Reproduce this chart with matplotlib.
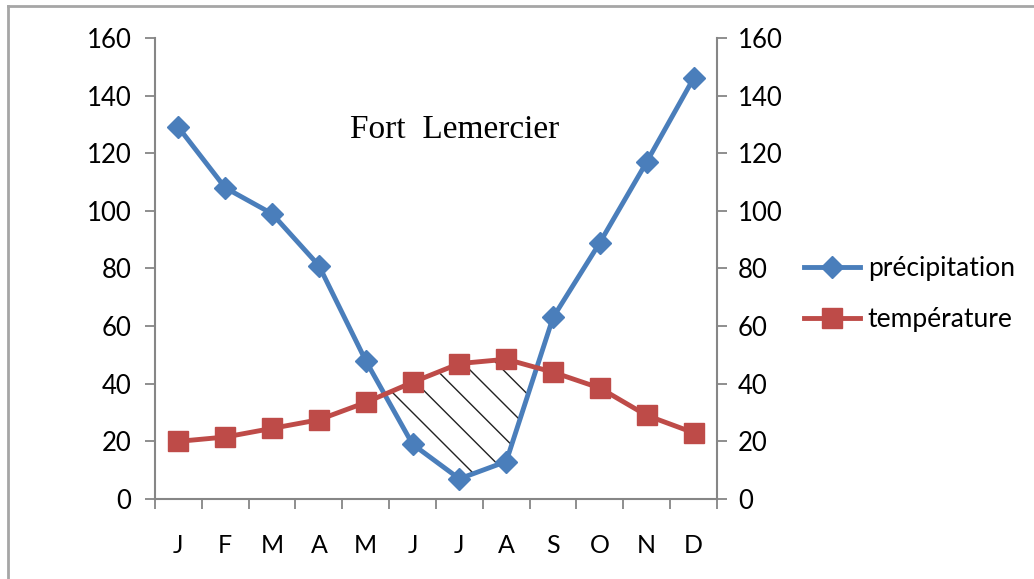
import numpy as np
import matplotlib.pyplot as plt
from matplotlib.lines import Line2D

# données climatiques - Fort Lemercier
mois = ['J', 'F', 'M', 'A', 'M', 'J', 'J', 'A', 'S', 'O', 'N', 'D']
precipitation = [129, 108, 99, 81, 48, 19, 7, 13, 63, 89, 117, 146]
temperature = [20, 21.5, 24.5, 27.5, 33.5, 40.5, 47, 48.5, 44, 38.5, 29, 23]
yticks = [0, 20, 40, 60, 80, 100, 120, 140, 160]

bleu = '#4A7EBB'
rouge = '#BE4B48'
gris = '#868686'

plt.rcParams['font.family'] = ['Lato', 'DejaVu Sans']

fig = plt.figure(figsize=(10.34, 5.79), dpi=100)
ax = fig.add_axes([0.1499, 0.1382, 0.5435, 0.7962])
x = np.arange(len(mois))

# zone sèche hachurée (température > précipitation)
ax.fill_between(x, precipitation, temperature,
                where=np.array(temperature) > np.array(precipitation),
                interpolate=True, facecolor='none', edgecolor='#222222',
                hatch='\\', linewidth=0, zorder=1)

ax.plot(x, precipitation, color=bleu, lw=3.5, marker='D', ms=11,
        label='précipitation', zorder=3)
ax.plot(x, temperature, color=rouge, lw=3.5, marker='s', ms=14,
        label='température', zorder=3)

ax.set_xlim(-0.5, 11.5)
ax.set_ylim(0, 160)
ax.set_yticks(yticks)
ax.set_xticks(x)
ax.set_xticklabels(mois)
ax.set_xticks(np.arange(-0.5, 12, 1), minor=True)
ax.tick_params(axis='x', which='major', length=0, pad=25, labelsize=18)
ax.tick_params(axis='x', which='minor', length=7, width=1.3, color=gris,
               direction='out')
ax.tick_params(axis='y', length=7, width=1.3, color=gris, pad=10,
               labelsize=18.5)

for s in ['left', 'bottom']:
    ax.spines[s].set_color(gris)
    ax.spines[s].set_linewidth(1.5)
ax.spines['top'].set_visible(False)
ax.spines['right'].set_visible(False)

ax2 = ax.twinx()
ax2.set_ylim(0, 160)
ax2.set_yticks(yticks)
ax2.tick_params(axis='y', length=7, width=1.3, color=gris, pad=8,
                labelsize=18.5)
ax2.spines['right'].set_color(gris)
ax2.spines['right'].set_linewidth(1.5)
for s in ['left', 'top', 'bottom']:
    ax2.spines[s].set_visible(False)

ax.text(0.534, 0.80, 'Fort  Lemercier', transform=ax.transAxes,
        family='Liberation Serif', fontsize=24, ha='center', va='center')

fig.legend(loc='center left', bbox_to_anchor=(0.755, 0.492), frameon=False,
           fontsize=19, handlelength=2.1, handletextpad=0.3,
           labelspacing=1.0)

# cadre gris (haut et gauche)
fig.add_artist(Line2D([8 / 1034, 1], [1 - 6 / 579, 1 - 6 / 579],
                      transform=fig.transFigure, color='#A6A6A6', lw=2))
fig.add_artist(Line2D([8 / 1034, 8 / 1034], [0, 1 - 6 / 579],
                      transform=fig.transFigure, color='#A6A6A6', lw=2))

fig.savefig('out.png', dpi=100)
